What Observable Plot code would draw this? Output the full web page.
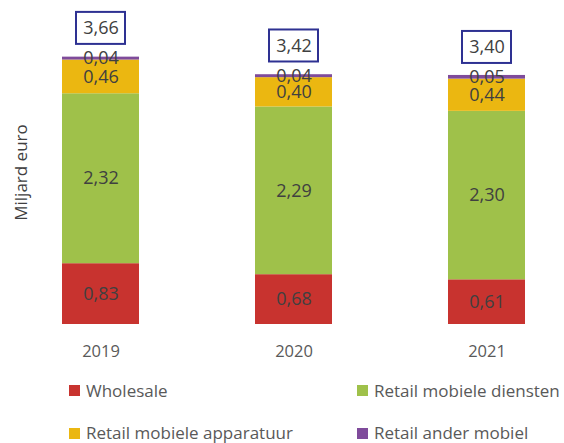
<!DOCTYPE html>
<html>
<head>
<meta charset="utf-8">
<script src="https://cdn.jsdelivr.net/npm/d3@7"></script>
<script src="https://cdn.jsdelivr.net/npm/@observablehq/plot@0.6"></script>
<style>
  html, body { margin: 0; padding: 0; background: #ffffff; }
  body { width: 564px; height: 443px; overflow: hidden; font-family: "Open Sans", sans-serif; }
  #legend { position: relative; width: 564px; height: 73px; }
  .item { position: absolute; display: flex; align-items: center; height: 20px; line-height: 20px; font-size: 17px; color: #595959; white-space: nowrap; }
  .sw { width: 11px; height: 11px; margin-right: 6px; flex: none; }
</style>
</head>
<body>
<div id="chart"></div>
<div id="legend"></div>
<script>
const years = ["2019", "2020", "2021"];
const seriesNames = ["Wholesale", "Retail mobiele diensten", "Retail mobiele apparatuur", "Retail ander mobiel"];
const seriesColors = ["#c8332f", "#9fc14a", "#ebb711", "#7f4b9b"];
const wholesale = [0.83, 0.68, 0.61];
const retailDiensten = [2.32, 2.29, 2.30];
const retailApparatuur = [0.46, 0.40, 0.44];
const retailAnder = [0.04, 0.04, 0.05];
const totals = [3.66, 3.42, 3.40];
const yLabel = "Miljard euro";

const seriesValues = [wholesale, retailDiensten, retailApparatuur, retailAnder];
const rows = [];
seriesNames.forEach((s, si) => {
  years.forEach((y, yi) => rows.push({year: y, series: s, value: seriesValues[si][yi]}));
});
const totalRows = years.map((y, i) => ({year: y, total: totals[i]}));
const fmt = v => v.toFixed(2).replace(".", ",");

const chart = Plot.plot({
  width: 564,
  height: 370,
  marginTop: 31,
  marginBottom: 46,
  marginLeft: 23,
  marginRight: 0,
  style: {fontFamily: "Open Sans, sans-serif", color: "#595959", background: "#ffffff"},
  x: {domain: years, paddingInner: 0.6, paddingOuter: 0.2, tickSize: 0, tickPadding: 21, label: null},
  y: {domain: [0, 4], axis: null},
  color: {domain: seriesNames, range: seriesColors},
  marks: [
    Plot.barY(rows, Plot.stackY({x: "year", y: "value", z: "series", fill: "series"})),
    Plot.text(rows, Plot.stackY({x: "year", y: "value", z: "series", text: d => fmt(d.value), fill: "#404040", fontSize: 18})),
    Plot.barY(totalRows, {x: "year", y1: "total", y2: "total", insetTop: -44, insetBottom: 12, insetLeft: 14, insetRight: 14, fill: "white", stroke: "#2e3192", strokeWidth: 2}),
    Plot.text(totalRows, {x: "year", y: "total", text: d => fmt(d.total), dy: -28, fill: "#404040", fontSize: 18}),
    Plot.text([yLabel], {text: d => d, frameAnchor: "left", textAnchor: "middle", lineAnchor: "middle", rotate: -90, dx: -2, dy: -5.5, fill: "#404040", fontSize: 17})
  ]
});
chart.querySelectorAll("[aria-label='x-axis tick label'] text, g[aria-label='x-axis'] text").forEach(t => t.setAttribute("font-size", "16.5"));
document.getElementById("chart").appendChild(chart);

const legend = document.getElementById("legend");
const pos = [[69, 10.5], [357, 10.5], [69, 53], [357, 53]];
seriesNames.forEach((s, i) => {
  const it = document.createElement("div");
  it.className = "item";
  it.style.left = pos[i][0] + "px";
  it.style.top = pos[i][1] + "px";
  const sw = document.createElement("span");
  sw.className = "sw";
  sw.style.background = seriesColors[i];
  const tx = document.createElement("span");
  tx.textContent = s;
  it.appendChild(sw);
  it.appendChild(tx);
  legend.appendChild(it);
});
</script>
</body>
</html>
